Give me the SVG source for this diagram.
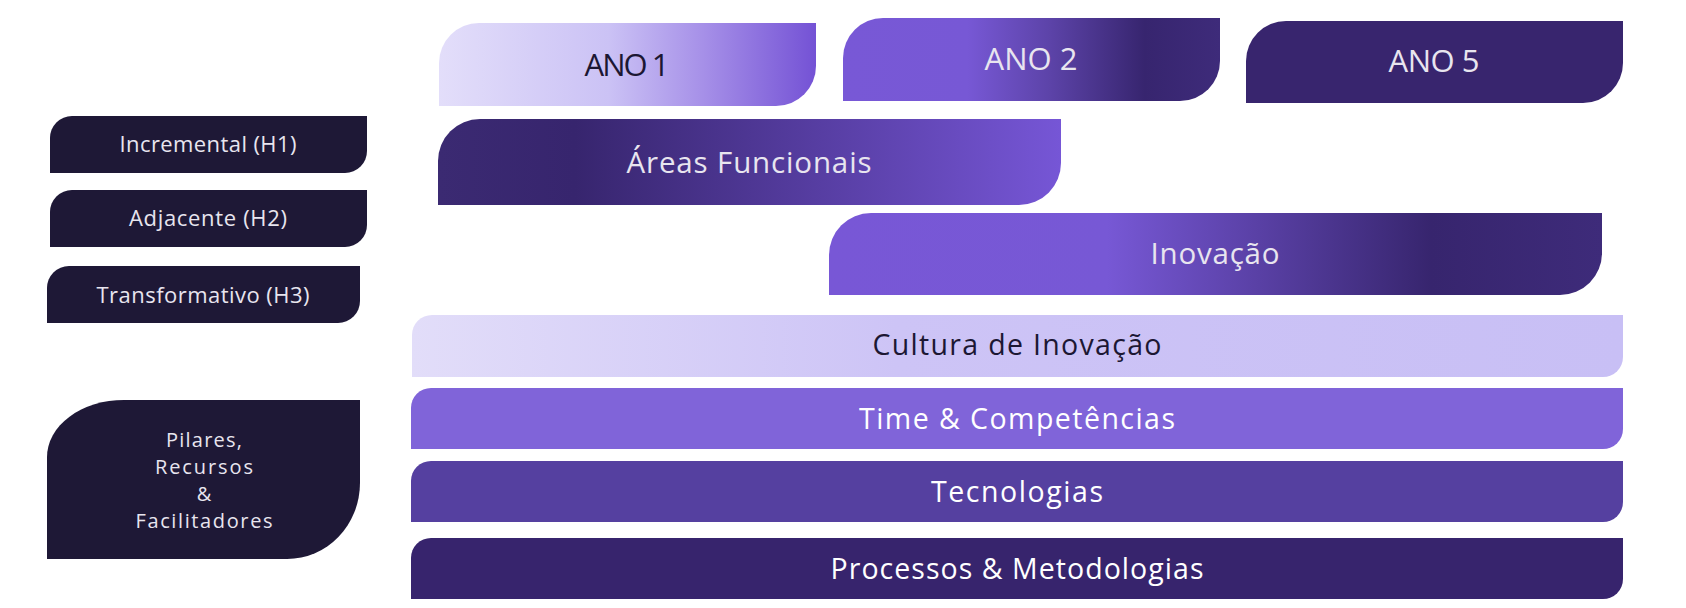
<svg xmlns="http://www.w3.org/2000/svg" width="1686" height="608" viewBox="0 0 1686 608">
<defs>
<linearGradient id="gAno1" x1="0" y1="0" x2="1" y2="0">
<stop offset="0" stop-color="#e3defa"/>
<stop offset="0.45" stop-color="#cbc2f5"/>
<stop offset="0.7" stop-color="#a690e8"/>
<stop offset="1" stop-color="#7452d5"/>
</linearGradient>
<linearGradient id="gAno2" x1="0" y1="0" x2="1" y2="0">
<stop offset="0" stop-color="#7858d6"/>
<stop offset="0.33" stop-color="#7758d5"/>
<stop offset="0.55" stop-color="#5c43a8"/>
<stop offset="0.8" stop-color="#37256f"/>
<stop offset="1" stop-color="#3e2b7a"/>
</linearGradient>
<linearGradient id="gAreas" x1="0" y1="0" x2="1" y2="0">
<stop offset="0" stop-color="#3b2a72"/>
<stop offset="0.22" stop-color="#37256e"/>
<stop offset="1" stop-color="#7656d6"/>
</linearGradient>
<linearGradient id="gInov" x1="0" y1="0" x2="1" y2="0">
<stop offset="0" stop-color="#7857d6"/>
<stop offset="0.36" stop-color="#7758d5"/>
<stop offset="0.78" stop-color="#37256e"/>
<stop offset="1" stop-color="#3e2b7a"/>
</linearGradient>
<linearGradient id="gCult" x1="0" y1="0" x2="1" y2="0">
<stop offset="0" stop-color="#e2ddf9"/>
<stop offset="0.4" stop-color="#cdc4f6"/>
<stop offset="1" stop-color="#c8bff5"/>
</linearGradient>
</defs>
<style>
text{font-family:"Open Sans","Noto Sans","Liberation Sans",sans-serif;text-anchor:middle}
.dark{fill:#1e1836}
.lt{fill:#e8e5ef}
.dk{fill:#1c1733}
.wt{fill:#ffffff}
.side{font-size:22px;font-weight:500}
.pil{font-size:20px;font-weight:500}
.ano{font-size:31px;font-weight:400}
.big{font-size:29.5px;font-weight:400}
.bar{font-size:28.5px;font-weight:500}
</style>
<g id="ano1"><path d="M439,63 A40,40 0 0 1 479,23 H816 V66 A40,40 0 0 1 776,106 H439 Z" fill="url(#gAno1)"/><text class="ano dk" x="627" y="76" textLength="85">ANO 1</text></g>
<g id="ano2"><path d="M843,58 A40,40 0 0 1 883,18 H1220 V61 A40,40 0 0 1 1180,101 H843 Z" fill="url(#gAno2)"/><text class="ano lt" x="1031" y="70" textLength="93">ANO 2</text></g>
<g id="ano5"><path d="M1246,61 A40,40 0 0 1 1286,21 H1623 V63 A40,40 0 0 1 1583,103 H1246 Z" fill="#38256e"/><text class="ano lt" x="1434" y="72" textLength="91">ANO 5</text></g>
<g id="areas"><path d="M438,161 A42,42 0 0 1 480,119 H1061 V163 A42,42 0 0 1 1019,205 H438 Z" fill="url(#gAreas)"/><text class="big lt" x="749" y="173" textLength="245">Áreas Funcionais</text></g>
<g id="inovacao"><path d="M829,255 A42,42 0 0 1 871,213 H1602 V253 A42,42 0 0 1 1560,295 H829 Z" fill="url(#gInov)"/><text class="big lt" x="1215" y="264" textLength="129">Inovação</text></g>
<g id="h1"><path class="dark" d="M50,138 A22,22 0 0 1 72,116 H367 V151 A22,22 0 0 1 345,173 H50 Z"/><text class="side lt" x="208" y="152" textLength="177">Incremental (H1)</text></g>
<g id="h2"><path class="dark" d="M50,212 A22,22 0 0 1 72,190 H367 V225 A22,22 0 0 1 345,247 H50 Z"/><text class="side lt" x="208" y="226" textLength="158">Adjacente (H2)</text></g>
<g id="h3"><path class="dark" d="M47,288 A22,22 0 0 1 69,266 H360 V301 A22,22 0 0 1 338,323 H47 Z"/><text class="side lt" x="203" y="303" textLength="213">Transformativo (H3)</text></g>
<g id="pilares"><path class="dark" d="M47,457 A77,57 0 0 1 124,400 H360 V483 A73,76 0 0 1 287,559 H47 Z"/>
<text class="pil lt" x="204" y="447" textLength="76">Pilares,</text>
<text class="pil lt" x="204" y="474" textLength="98">Recursos</text>
<text class="pil lt" x="204" y="501">&amp;</text>
<text class="pil lt" x="204" y="528" textLength="137">Facilitadores</text></g>
<g id="cultura"><path d="M412,335 A20,20 0 0 1 432,315 H1623 V357 A20,20 0 0 1 1603,377 H412 Z" fill="url(#gCult)"/><text class="bar dk" x="1017" y="355" textLength="289">Cultura de Inovação</text></g>
<g id="time"><path d="M411,408 A20,20 0 0 1 431,388 H1623 V429 A20,20 0 0 1 1603,449 H411 Z" fill="#8064d9"/><text class="bar wt" x="1017" y="429" textLength="316">Time &amp; Competências</text></g>
<g id="tecnologias"><path d="M411,481 A20,20 0 0 1 431,461 H1623 V502 A20,20 0 0 1 1603,522 H411 Z" fill="#5540a0"/><text class="bar wt" x="1017" y="502" textLength="172">Tecnologias</text></g>
<g id="processos"><path d="M411,558 A20,20 0 0 1 431,538 H1623 V579 A20,20 0 0 1 1603,599 H411 Z" fill="#37246d"/><text class="bar wt" x="1017" y="579" textLength="373">Processos &amp; Metodologias</text></g>
<g id="connectors"/>
</svg>
